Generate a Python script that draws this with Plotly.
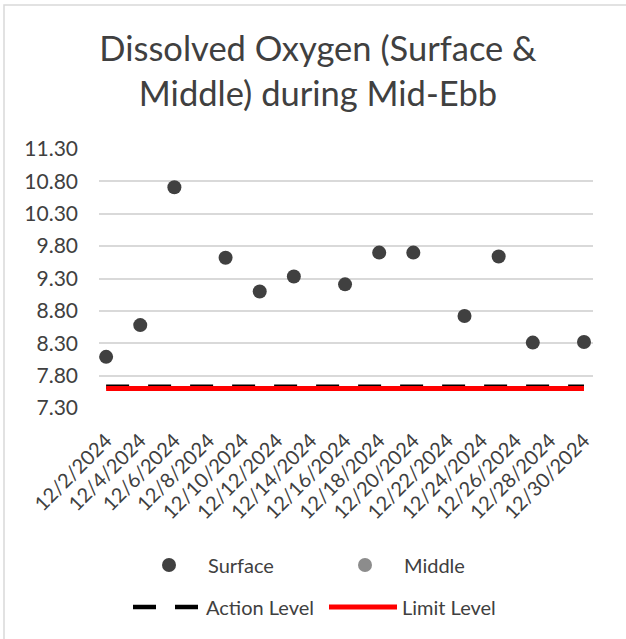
import plotly.graph_objects as go

# ---- data ----
surface_dates = ["2024-12-02", "2024-12-04", "2024-12-06", "2024-12-09", "2024-12-11",
                 "2024-12-13", "2024-12-16", "2024-12-18", "2024-12-20", "2024-12-23",
                 "2024-12-25", "2024-12-27", "2024-12-30"]
surface_values = [8.09, 8.58, 10.71, 9.62, 9.10, 9.33, 9.21, 9.70, 9.70, 8.72, 9.64, 8.31, 8.32]
middle_values = [None] * len(surface_dates)

level_dates = ["2024-12-02", "2024-12-30"]
action_level = [7.63, 7.63]
limit_level = [7.60, 7.60]

x_tick_vals = ["2024-12-02", "2024-12-04", "2024-12-06", "2024-12-08", "2024-12-10",
               "2024-12-12", "2024-12-14", "2024-12-16", "2024-12-18", "2024-12-20",
               "2024-12-22", "2024-12-24", "2024-12-26", "2024-12-28", "2024-12-30"]
x_tick_text = ["12/2/2024", "12/4/2024", "12/6/2024", "12/8/2024", "12/10/2024",
               "12/12/2024", "12/14/2024", "12/16/2024", "12/18/2024", "12/20/2024",
               "12/22/2024", "12/24/2024", "12/26/2024", "12/28/2024", "12/30/2024"]
y_tick_vals = [7.3, 7.8, 8.3, 8.8, 9.3, 9.8, 10.3, 10.8, 11.3]
y_tick_text = ["7.30", "7.80", "8.30", "8.80", "9.30", "9.80", "10.30", "10.80", "11.30"]

FONT = "Lato"
TXT = "#404040"

W, H = 626, 639
L, T, PW, PH = 99, 149, 494, 259

fig = go.Figure()
fig.add_trace(go.Scatter(x=level_dates, y=action_level, mode="lines", name="Action Level",
                         line=dict(color="black", width=4.5, dash="23px,19px"),
                         legend="legend2"))
fig.add_trace(go.Scatter(x=level_dates, y=limit_level, mode="lines", name="Limit Level",
                         line=dict(color="#ff0000", width=5),
                         legend="legend2"))
fig.add_trace(go.Scatter(x=surface_dates, y=surface_values, mode="markers", name="Surface",
                         marker=dict(color="#404040", size=14), legend="legend"))
fig.add_trace(go.Scatter(x=surface_dates, y=middle_values, mode="markers", name="Middle",
                         marker=dict(color="#8c8c8c", size=14), legend="legend"))

leg_common = dict(orientation="h", xref="container", yref="container",
                  yanchor="middle", xanchor="left",
                  itemwidth=68, entrywidth=113, entrywidthmode="pixels",
                  font=dict(size=20, family=FONT, color=TXT), traceorder="normal",
                  bgcolor="rgba(0,0,0,0)")

fig.update_layout(
    width=W, height=H,
    margin=dict(l=L, r=W - L - PW, t=T, b=H - T - PH, autoexpand=False),
    paper_bgcolor="white", plot_bgcolor="white",
    font=dict(family=FONT, color=TXT, size=21),
    title=dict(text="Dissolved Oxygen (Surface &<br>Middle) during Mid-Ebb",
               x=318 / W, xanchor="center", xref="container",
               y=1 - 61 / H, yanchor="top", yref="container",
               font=dict(family=FONT, size=34.5, color=TXT)),
    xaxis=dict(type="date", range=["2024-12-01 14:00", "2024-12-30 12:40"],
               tickvals=x_tick_vals, ticktext=x_tick_text, tickangle=-45,
               showgrid=False, zeroline=False, showline=False, ticks="",
               ticklabelstandoff=16, tickfont=dict(size=20, family=FONT, color=TXT),
               automargin=False),
    yaxis=dict(range=[7.3, 11.3], tickvals=y_tick_vals, ticktext=y_tick_text,
               showgrid=True, gridcolor="#d9d9d9", gridwidth=1.5, zeroline=False,
               showline=False, ticks="", ticklabelstandoff=20,
               tickfont=dict(size=21, family=FONT, color=TXT), automargin=False),
    legend=dict(leg_common, x=130 / W, y=1 - 565 / H),
    legend2=dict(leg_common, x=128 / W, y=1 - 607 / H),
    showlegend=True,
)

# chart border (outer frame of the chart area)
fig.add_shape(type="rect", xref="paper", yref="paper",
              x0=(4 - L) / PW, x1=(640 - L) / PW,
              y0=(T + PH - 650) / PH, y1=(T + PH - 5) / PH,
              line=dict(color="#d9d9d9", width=1.5), fillcolor="rgba(0,0,0,0)", layer="below")

fig.write_html("out.html", config={"displayModeBar": False},
               post_script="document.body.style.margin='0';document.body.style.overflow='hidden';")
